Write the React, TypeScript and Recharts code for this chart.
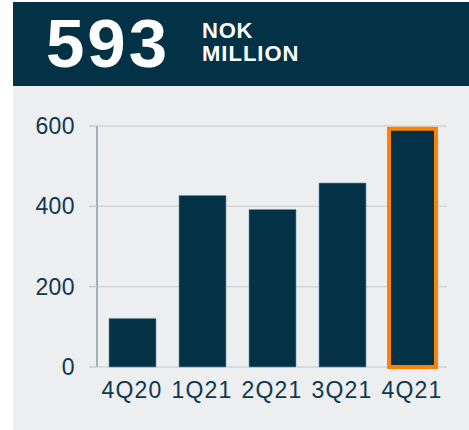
import React from 'react';
import { BarChart, Bar, Cell, XAxis, YAxis, CartesianGrid } from 'recharts';

const quarters = ['4Q20', '1Q21', '2Q21', '3Q21', '4Q21'];
const profit = [121, 427, 392, 458, 593];
const yTicks = [0, 200, 400, 600];
const headline = '593';
const unitLines = ['NOK', 'MILLION'];

const NAVY = '#033246';
const ORANGE = '#ff8205';
const TEXT = '#10374d';
const FONT = '"Liberation Sans", Arial, sans-serif';

const data = quarters.map((q, i) => ({ quarter: q, value: profit[i] }));

const App: React.FC = () => {
  return (
    <div style={{ position: 'absolute', left: 0, top: 0, width: 469, height: 430, background: '#fff', overflow: 'hidden' }}>
      {/* header band */}
      <div style={{ position: 'absolute', left: 13, top: 2, width: 456, height: 84, background: NAVY }}></div>
      <svg width={469} height={86} style={{ position: 'absolute', left: 0, top: 0 }}>
        <text x={46} y={67} fill="#fff" fontFamily={FONT} fontWeight="bold" fontSize={69} letterSpacing={3}>
          {headline}
        </text>
        <text x={202} y={38} fill="#fff" fontFamily={FONT} fontWeight="bold" fontSize={22} letterSpacing={0.8}>
          {unitLines[0]}
        </text>
        <text x={202} y={61} fill="#fff" fontFamily={FONT} fontWeight="bold" fontSize={22} letterSpacing={1}>
          {unitLines[1]}
        </text>
      </svg>

      {/* chart panel */}
      <div style={{ position: 'absolute', left: 13, top: 86, width: 456, height: 344, background: '#eceef0' }}></div>
      <div style={{ position: 'absolute', left: 0, top: 86 }}>
        <BarChart
          width={469}
          height={344}
          data={data}
          margin={{ top: 40, right: 22, bottom: 33, left: 0 }}
          barSize={47}
        >
          <CartesianGrid vertical={false} stroke="#d3d6da" strokeWidth={1.5} />
          <XAxis
            dataKey="quarter"
            axisLine={false}
            tickLine={false}
            tickSize={0}
            tickMargin={15}
            height={30}
            interval={0}
            tick={{ fill: TEXT, fontSize: 23, fontFamily: FONT, letterSpacing: 1.2 }}
          />
          <YAxis
            domain={[0, 600]}
            ticks={yTicks}
            width={97}
            axisLine={{ stroke: '#8c98a4', strokeWidth: 1.5 }}
            tickLine={{ stroke: '#c9cdd2', strokeWidth: 1.5 }}
            tickSize={8}
            tickMargin={14}
            tick={{ fill: TEXT, fontSize: 23, fontFamily: FONT, letterSpacing: 0.4 }}
          />
          <Bar dataKey="value" fill={NAVY} isAnimationActive={false}>
            {data.map((d, i) => (
              <Cell
                key={d.quarter}
                fill={NAVY}
                stroke={i === data.length - 1 ? ORANGE : '#6f8ea3'}
                strokeWidth={i === data.length - 1 ? 4 : 0.6}
              />
            ))}
          </Bar>
        </BarChart>
      </div>
    </div>
  );
};

export default App;
